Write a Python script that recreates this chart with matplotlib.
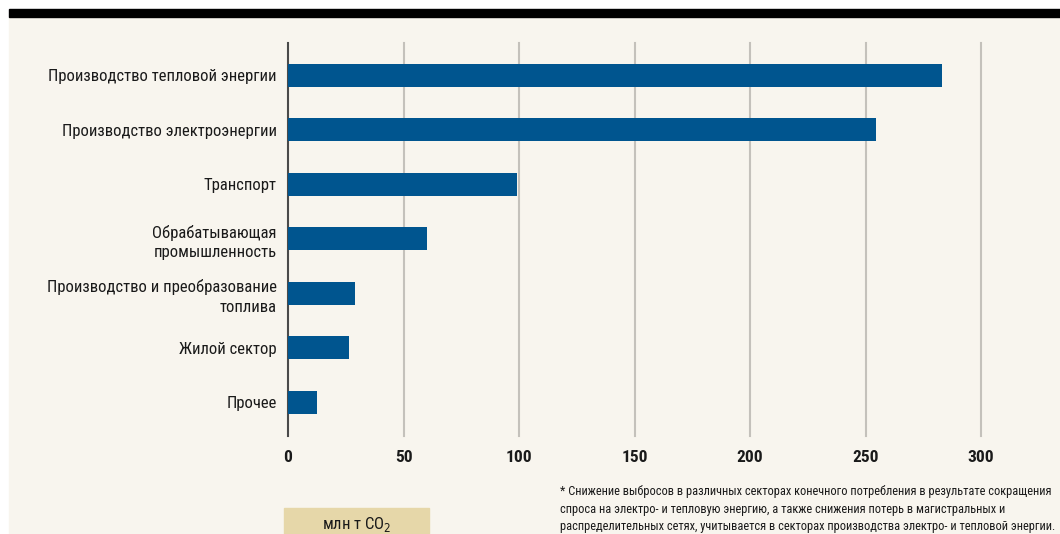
import matplotlib

matplotlib.use("Agg")
import matplotlib.pyplot as plt
from matplotlib import font_manager
from matplotlib.patches import Rectangle

# narrow face if there is one, else condensed DejaVu
_names = {f.name for f in font_manager.fontManager.ttflist}
_narrow = [n for n in ("Liberation Sans Narrow", "Roboto Condensed", "Open Sans Condensed")
           if n in _names]
plt.rcParams["font.family"] = _narrow + ["DejaVu Sans"]
plt.rcParams["font.stretch"] = "condensed"

# Data (млн т CO2)
sectors = [
    "Производство тепловой энергии",
    "Производство электроэнергии",
    "Транспорт",
    "Обрабатывающая\nпромышленность",
    "Производство и преобразование\nтоплива",
    "Жилой сектор",
    "Прочее",
]
values = [283, 254.5, 99, 60, 29, 26.5, 12.5]
xticks = [0, 50, 100, 150, 200, 250, 300]
unit_label = "млн т CO$_2$"
footnote = (
    "* Снижение выбросов в различных секторах конечного потребления в результате сокращения\n"
    "спроса на электро- и тепловую энергию, а также снижения потерь в магистральных и\n"
    "распределительных сетях, учитывается в секторах производства электро- и тепловой энергии."
)

BAR = "#00558F"
CREAM = "#F8F5EE"
TAN = "#E6D7A9"
W, H = 1060, 534

fig = plt.figure(figsize=(W / 100, H / 100), dpi=100, facecolor="white")

# page background and top rule (behind the axes)
fig.patches.append(Rectangle((9 / W, 0), 1 - 9 / W, 1 - 17 / H,
                             transform=fig.transFigure, color=CREAM, zorder=-10))
fig.patches.append(Rectangle((9 / W, 1 - 17 / H), 1 - 9 / W, 8 / H,
                             transform=fig.transFigure, color="black", zorder=-10))

ax = fig.add_axes([288 / W, 1 - 436 / H, (981 - 288) / W, (436 - 43) / H])
ax.set_facecolor("none")

pos = list(range(len(sectors)))
ax.barh(pos, values, height=0.42, color=BAR, zorder=3)
ax.set_xlim(0, 300)
ax.set_ylim(6.62, -0.59)

ax.set_yticks(pos)
ax.set_yticklabels(sectors, fontsize=12, color="#1a1a1a", ha="right",
                   multialignment="right", linespacing=1.4)
ax.set_xticks(xticks)
ax.set_xticklabels([str(t) for t in xticks], fontsize=12.5, fontweight="bold",
                   color="#1a1a1a")
ax.tick_params(axis="both", length=0)
ax.tick_params(axis="x", pad=10)
ax.tick_params(axis="y", pad=8)

for t in xticks[1:]:
    ax.axvline(t, color="#C4C1BB", lw=1.5, zorder=1, clip_on=False)

for side in ("top", "right", "bottom"):
    ax.spines[side].set_visible(False)
ax.spines["left"].set_color("#4a4a4a")
ax.spines["left"].set_linewidth(1.5)

# unit box
fig.patches.append(Rectangle((284 / W, 0), (429 - 284) / W, (H - 508) / H,
                             transform=fig.transFigure, color=TAN, zorder=-5))
fig.text(357 / W, 1 - 524 / H, unit_label, fontsize=12, ha="center",
         va="center", color="#1a1a1a")

fig.text(560 / W, 1 - 485 / H, footnote, fontsize=8.9, ha="left", va="top",
         color="#1a1a1a", linespacing=1.45)

fig.savefig("out.png", dpi=100, facecolor=fig.get_facecolor())
